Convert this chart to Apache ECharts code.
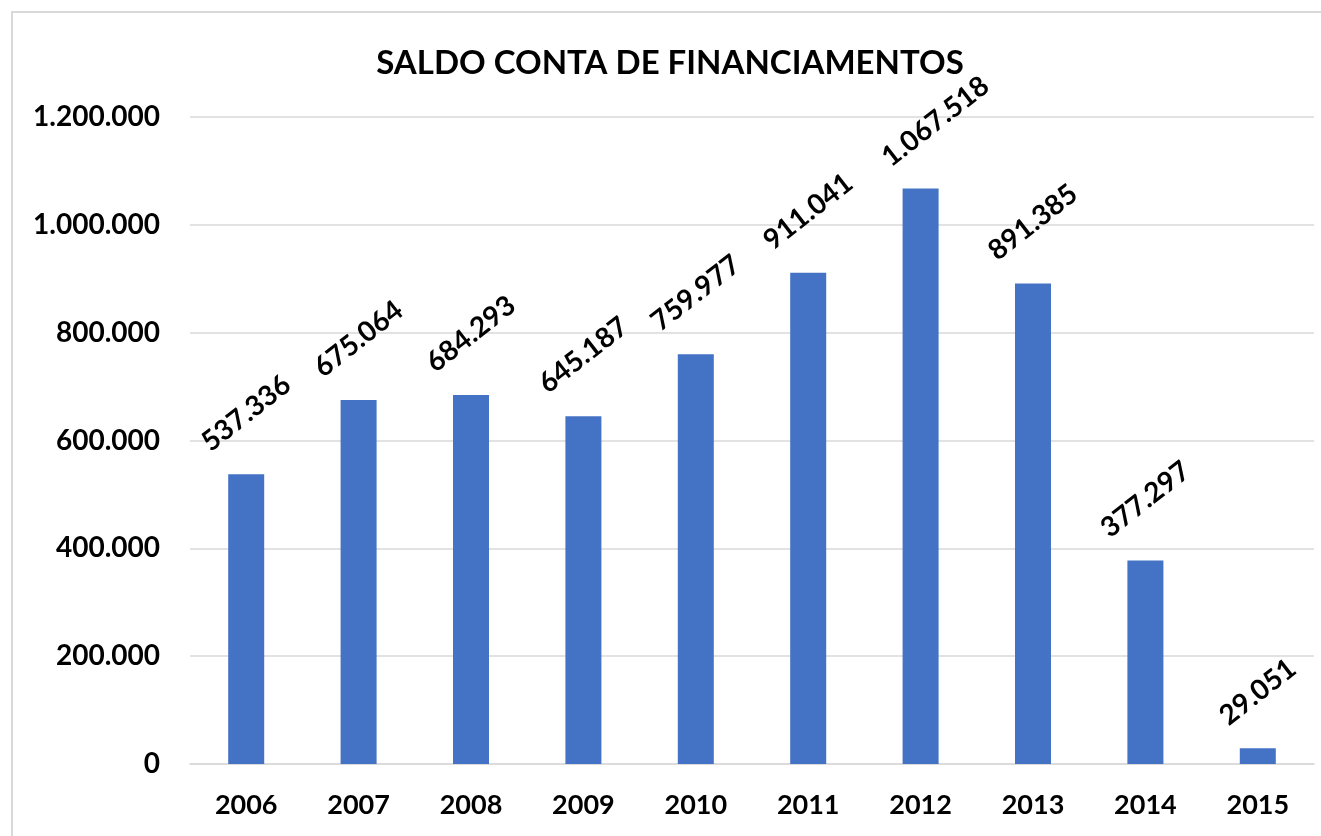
<!DOCTYPE html>
<html>
<head>
<meta charset="utf-8">
<title>Saldo Conta de Financiamentos</title>
<script src="https://cdn.jsdelivr.net/npm/echarts@6/dist/echarts.min.js"></script>
<style>
  html, body { margin: 0; padding: 0; background: #fff; }
  #chart { width: 1321px; height: 836px; }
</style>
</head>
<body>
<div id="chart"></div>
<script>
// dados do gráfico
const years = ['2006', '2007', '2008', '2009', '2010', '2011', '2012', '2013', '2014', '2015'];
const saldo = [537336, 675064, 684293, 645187, 759977, 911041, 1067518, 891385, 377297, 29051];
const yTicks = [0, 200000, 400000, 600000, 800000, 1000000, 1200000];

const fontFamily = 'Lato, "Open Sans", sans-serif';
const labelAngle = 38;

// formato pt-BR: 1.067.518
const fmt = (v) => String(v).replace(/\B(?=(\d{3})+(?!\d))/g, '.');

// distância do centro do rótulo girado acima da barra
const labelDist = (v) => {
  const s = fmt(v);
  const dots = (s.match(/\./g) || []).length;
  const w = (s.length - dots) * 16.2 + dots * 7.3;
  const a = labelAngle * Math.PI / 180;
  return 21 + (w * Math.sin(a) + 20 * Math.cos(a)) / 2;
};

// o rótulo mais alto fica empurrado para dentro da área, como no original
const maxIdx = saldo.indexOf(Math.max(...saldo));

const myChart = echarts.init(document.getElementById('chart'));

const option = {
  animation: false,
  title: {
    text: 'SALDO CONTA DE FINANCIAMENTOS',
    left: 665,
    top: 42,
    textAlign: 'center',
    textStyle: { fontFamily, fontWeight: 'bold', fontSize: 33, color: '#000' },
  },
  graphic: [
    {
      type: 'rect',
      shape: { x: 12, y: 12, width: 1400, height: 900 },
      style: { fill: 'none', stroke: '#d9d9d9', lineWidth: 2 },
      silent: true,
    },
  ],
  grid: { left: 190, right: 7, top: 117, bottom: 72 },
  xAxis: {
    type: 'category',
    data: years,
    axisLine: { show: true, lineStyle: { color: '#d9d9d9', width: 1.5 } },
    axisTick: { show: false },
    axisLabel: {
      margin: 28,
      fontFamily,
      fontWeight: 'bold',
      fontSize: 27,
      color: '#000',
    },
  },
  yAxis: {
    type: 'value',
    min: yTicks[0],
    max: yTicks[yTicks.length - 1],
    interval: yTicks[1] - yTicks[0],
    axisLine: { show: false },
    axisTick: { show: false },
    splitLine: { lineStyle: { color: '#d9d9d9', width: 1.5 } },
    axisLabel: {
      margin: 30,
      fontFamily,
      fontWeight: 'bold',
      fontSize: 28,
      color: '#000',
      formatter: (v) => fmt(v),
    },
  },
  series: [
    {
      type: 'bar',
      barWidth: 36,
      itemStyle: { color: '#4472C4' },
      data: saldo.map((v, i) => ({
        value: v,
        label: i === maxIdx
          ? { distance: labelDist(v) - 13, offset: [19, 0] }
          : { distance: labelDist(v) },
      })),
      label: {
        show: true,
        position: 'top',
        rotate: labelAngle,
        align: 'center',
        verticalAlign: 'middle',
        fontFamily,
        fontWeight: 'bold',
        fontSize: 28,
        color: '#000',
        formatter: (p) => fmt(p.value),
      },
    },
  ],
};

myChart.setOption(option);
</script>
</body>
</html>
